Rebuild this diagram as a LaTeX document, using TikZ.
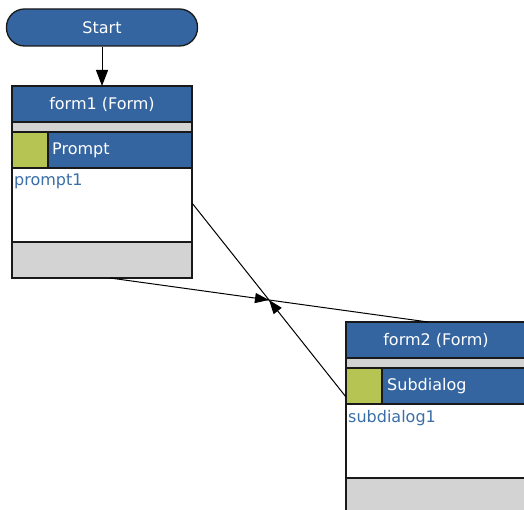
\documentclass[tikz,border=0pt]{standalone}
\usepackage{fontspec}
\setmainfont{DejaVu Sans}
\usetikzlibrary{arrows.meta,decorations.markings,calc}
\definecolor{bandblue}{RGB}{52,101,160}
\definecolor{leafgreen}{RGB}{181,196,82}
\definecolor{bandgray}{RGB}{211,211,211}
\definecolor{labelblue}{RGB}{58,110,168}
\definecolor{edgecol}{RGB}{25,25,25}
\tikzset{
  base/.style={draw=edgecol, line width=1.3pt, inner sep=0pt, outer sep=0pt, anchor=north west},
  txt/.style={font=\fontsize{16}{19}\selectfont},
  titleband/.style={base, txt, fill=bandblue, text=white, minimum width=180pt, minimum height=36pt},
  sepband/.style={base, fill=bandgray, minimum width=180pt, minimum height=10pt},
  itemband/.style={base, fill=bandblue, minimum width=180pt, minimum height=36pt},
  leaf/.style={base, fill=leafgreen, minimum width=36pt, minimum height=36pt},
  itemtext/.style={txt, text=white, anchor=west, inner sep=0pt},
  bodybox/.style={base, fill=white, minimum width=180pt, minimum height=74pt},
  footbox/.style={base, fill=bandgray, minimum width=180pt, minimum height=36pt},
  label/.style={txt, text=labelblue, anchor=north west, inner sep=0pt},
  startnode/.style={draw=edgecol, line width=1.3pt, fill=bandblue, text=white, txt,
    rounded corners=18pt, minimum width=191pt, minimum height=37pt, inner sep=0pt},
  conn/.style={draw=black, line width=1pt},
  midarrow/.style={postaction={decorate}, decoration={markings,
    mark=at position 0.5 with {\arrow{Triangle[width=10pt,length=14pt]}}}}
}
\begin{document}
\begin{tikzpicture}[x=1pt,y=-1pt]
\useasboundingbox (0,0) rectangle (524,510);
\clip (0,0) rectangle (524,510);
\fill[white] (0,0) rectangle (524,510);

% Start
\node[startnode] (start) at (102,27.5) {Start};

% form1
\node[titleband] (f1title) at (12,86) {form1 (Form)};
\node[sepband] (f1sep) at (f1title.south west) {};
\node[itemband] (f1band) at (f1sep.south west) {};
\node[leaf] (f1leaf) at (f1sep.south west) {};
\node[itemtext] (f1item) at ($(f1leaf.east)+(4,0)$) {Prompt};
\node[bodybox] (f1body) at (f1band.south west) {};
\node[footbox] (f1foot) at (f1body.south west) {};
\node[label] (f1lab) at ($(f1body.north west)+(2,6)$) {prompt1};

% form2
\node[titleband] (f2title) at (346,322) {form2 (Form)};
\node[sepband] (f2sep) at (f2title.south west) {};
\node[itemband] (f2band) at (f2sep.south west) {};
\node[leaf] (f2leaf) at (f2sep.south west) {};
\node[itemtext] (f2item) at ($(f2leaf.east)+(5,0)$) {Subdialog};
\node[bodybox] (f2body) at (f2band.south west) {};
\node[footbox] (f2foot) at (f2body.south west) {};
\node[label] (f2lab) at ($(f2body.north west)+(2,6)$) {subdialog1};

% connectors
\coordinate (f1out) at ($(f1foot.south west)+(98,0)$);
\coordinate (f2in) at ($(f2title.north west)+(82,0)$);
\coordinate (f2out) at ($(f2band.west)+(0,11)$);
\coordinate (f1in) at ($(f1body.east)+(0,-2)$);

\draw[conn, -{Triangle[width=12pt,length=16pt]}] (start.south) -- (f1title.north);
\draw[conn, midarrow] (f1out) -- (f2in);
\draw[conn, midarrow] (f2out) -- (f1in);
\end{tikzpicture}
\end{document}
